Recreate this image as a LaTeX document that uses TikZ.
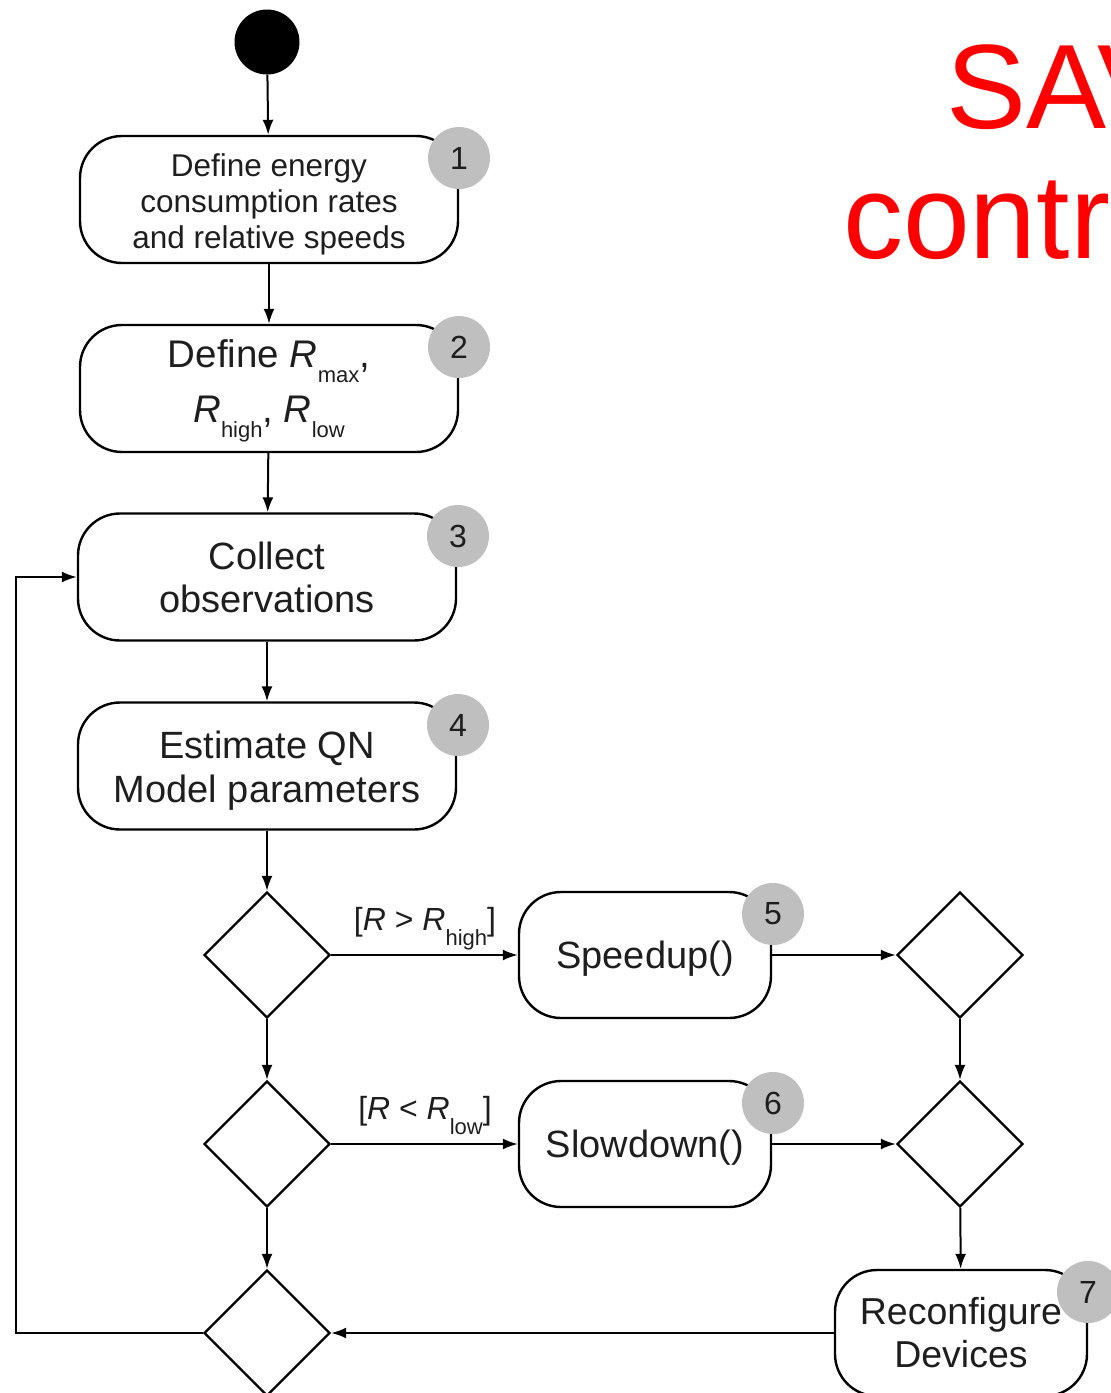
\documentclass[tikz,border=0pt]{standalone}
\usepackage{fontspec}
\setmainfont{Liberation Sans}
\usetikzlibrary{arrows.meta,shapes.geometric}
\definecolor{ink}{HTML}{1E1E1E}
\definecolor{badgegray}{HTML}{BFBFBF}
\definecolor{titlered}{HTML}{FF0000}
% italic response-time symbol and its lowered index
\newcommand{\symR}{\textit{R}}
\newcommand{\dn}[1]{\raisebox{-15pt}{\fontsize{22}{22}\selectfont #1}}
% invisible strut that sets the height of a first line
\newcommand{\topgap}[1]{\rule{0pt}{#1}}
\begin{document}
\begin{tikzpicture}[x=1pt,y=-1pt,
  every node/.style={text=ink},
  act/.style={draw=black, line width=2.4pt, rounded corners=42pt, inner sep=0pt, align=center},
  bigact/.style={act, minimum width=378pt, minimum height=127pt},
  smallact/.style={act, minimum width=252pt, minimum height=126pt},
  badge/.style={circle, fill=badgegray, minimum size=62pt, inner sep=0pt, font=\fontsize{32}{32}\selectfont},
  choice/.style={diamond, draw=black, line width=2.4pt, minimum width=126pt, minimum height=126pt, inner sep=0pt},
  flow/.style={line width=2pt, -{Latex[length=15pt,width=11pt]}},
  guard/.style={anchor=base, inner sep=0pt, font=\fontsize{32}{32}\selectfont},
  headline/.style={anchor=base west, inner sep=0pt, text=titlered, font=\fontsize{120}{120}\selectfont},
]
\path[use as bounding box] (0,0) rectangle (1111,1393);
\clip (0,0) rectangle (1111,1393);

% initial state
\node[circle, fill=black, minimum size=65pt, inner sep=0pt] (start) at (267,42) {};

% main activity column
\node[bigact, font=\fontsize{31.5}{36}\selectfont] (define) at (269,199.5)
  {\topgap{32pt}Define energy\\consumption rates\\and relative speeds};
\node[bigact, font=\fontsize{38.5}{55}\selectfont] (thresh) at (269,388.5)
  {\topgap{33pt}Define \symR\dn{max},\\\symR\dn{high}, \symR\dn{low}};
\node[bigact, font=\fontsize{38}{43}\selectfont] (collect) at (267,577)
  {Collect\\observations};
\node[bigact, font=\fontsize{38}{44}\selectfont] (estimate) at (267,766)
  {\topgap{36pt}Estimate QN\\Model parameters};

% decisions and merge
\node[choice] (c1) at (267,955) {};
\node[choice] (c2) at (267,1144) {};
\node[choice] (merge) at (267,1333) {};

% actions on the right
\node[smallact, text depth=0pt, font=\fontsize{38}{38}\selectfont] (speed) at (645,955) {Speedup()};
\node[smallact, text depth=0pt, font=\fontsize{38}{38}\selectfont] (slow) at (645,1144) {Slowdown()};
\node[choice] (j1) at (960,955) {};
\node[choice] (j2) at (960,1144) {};
\node[smallact, font=\fontsize{37.5}{43}\selectfont] (reconf) at (961,1333) {Reconfigure\\Devices};

% guards
\node[guard] (ghigh) at (425,930) {[\symR{} > \symR\dn{high}]};
\node[guard] (glow) at (425,1119) {[\symR{} < \symR\dn{low}]};

% transitions
\draw[flow] (start) -- (define);
\draw[flow] (define) -- (thresh);
\draw[flow] (thresh) -- (collect);
\draw[flow] (collect) -- (estimate);
\draw[flow] (estimate) -- (c1);
\draw[flow] (c1) -- (c2);
\draw[flow] (c2) -- (merge);
\draw[flow] (c1) -- (speed);
\draw[flow] (c2) -- (slow);
\draw[flow] (speed) -- (j1);
\draw[flow] (slow) -- (j2);
\draw[flow] (j1) -- (j2);
\draw[flow] (j2) -- (reconf);
\draw[flow] (reconf) -- (merge);
\coordinate (back) at (16,1333);
\draw[flow] (merge.west) -- (back) |- (collect.west);

% step numbers
\node[badge] (n1) at (459,158) {1};
\node[badge] (n2) at (459,347) {2};
\node[badge] (n3) at (458,536) {3};
\node[badge] (n4) at (458,725) {4};
\node[badge] (n5) at (773,914) {5};
\node[badge] (n6) at (773,1103) {6};
\node[badge] (n7) at (1088,1292) {7};

% heading
\node[headline] (h1) at (946,128) {SAV};
\node[headline] (h2) at (843,258) {contr};
\end{tikzpicture}
\end{document}
